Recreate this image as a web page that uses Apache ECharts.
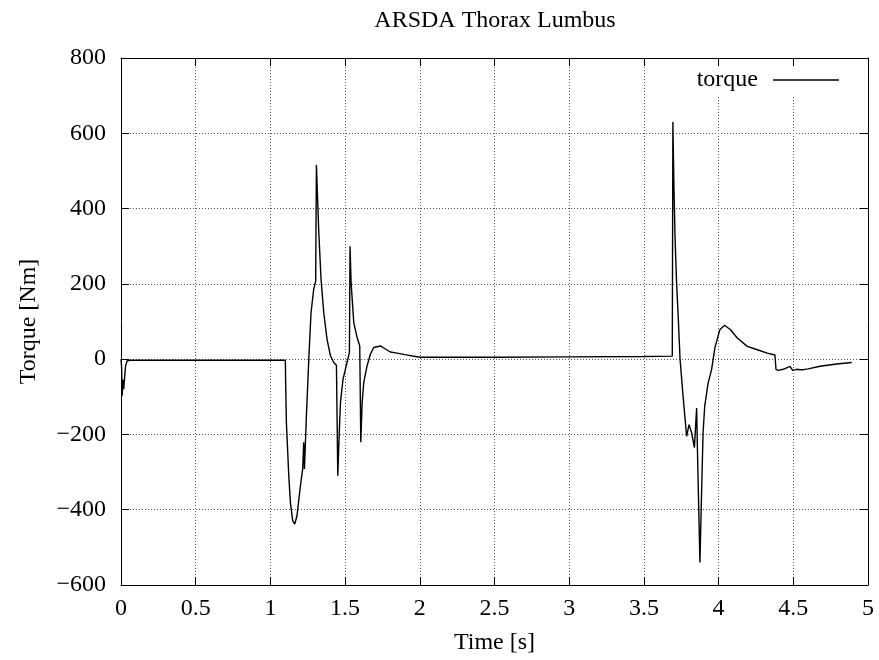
<!DOCTYPE html>
<html>
<head>
<meta charset="utf-8">
<script src="https://cdn.jsdelivr.net/npm/echarts@6/dist/echarts.min.js"></script>
<style>
html,body{margin:0;padding:0;background:#fff;}
#chart{width:879px;height:660px;}
</style>
</head>
<body>
<div id="chart"></div>
<script>
const chartTitle = 'ARSDA Thorax Lumbus';
const xAxisName = 'Time [s]';
const yAxisName = 'Torque [Nm]';
const seriesName = 'torque';

const xMin = 0, xMax = 5, xStep = 0.5;
const yMin = -600, yMax = 800, yStep = 200;

const time = [
  0.000, 0.004, 0.008, 0.013, 0.018, 0.030, 0.040, 0.060, 0.300, 0.600, 1.000, 1.100,
  1.102, 1.107, 1.123, 1.134, 1.149, 1.163, 1.178, 1.201, 1.216, 1.223, 1.228, 1.241,
  1.257, 1.272, 1.290, 1.303, 1.308, 1.324, 1.339, 1.357, 1.379, 1.402, 1.424, 1.442,
  1.451, 1.460, 1.469, 1.486, 1.513, 1.529, 1.533, 1.540, 1.558, 1.580, 1.598, 1.605,
  1.614, 1.625, 1.647, 1.669, 1.692, 1.736, 1.770, 1.803, 1.848, 1.900, 2.000, 2.500,
  3.000, 3.500, 3.690, 3.694, 3.700, 3.708, 3.719, 3.730, 3.742, 3.764, 3.786, 3.793,
  3.802, 3.811, 3.820, 3.838, 3.853, 3.858, 3.875, 3.885, 3.896, 3.907, 3.930, 3.953,
  3.975, 4.008, 4.040, 4.080, 4.125, 4.192, 4.259, 4.326, 4.377, 4.384, 4.400, 4.433,
  4.478, 4.489, 4.496, 4.523, 4.545, 4.556, 4.567, 4.600, 4.679, 4.790, 4.891
];
const torque = [
  0, -20, -97, -55, -80, -20, -5, -3, -3, -3, -3, -3,
  -60, -168, -310, -381, -429, -438, -416, -336, -292, -221, -292, -150,
  0, 124, 186, 208, 516, 336, 212, 124, 53, 9, -9, -16,
  -310, -204, -115, -53, -9, 18, 300, 204, 97, 58, 35, -221,
  -115, -62, -18, 13, 31, 35, 27, 19, 16, 12, 5, 5,
  6, 7, 8, 630, 480, 330, 200, 110, 0, -107, -205, -209,
  -174, -178, -196, -235, -130, -235, -540, -372, -196, -125, -63, -28,
  30, 78, 90, 78, 56, 34, 25, 16, 11, -27, -30, -27,
  -19, -15, -30, -27, -28, -24, -28, -26, -19, -13, -9
];

const FONT = 'Liberation Serif';
const FS = 24;

const chart = echarts.init(document.getElementById('chart'), null, {renderer: 'canvas'});
const minus = v => String(v).replace('-', '\u2212');

const gridLine = {show: true, lineStyle: {color: '#555', width: 1, type: [1, 2]}};
const axisLineStyle = {show: true, onZero: false, lineStyle: {color: '#000', width: 1}};
const tickStyle = {show: true, inside: true, length: 8, lineStyle: {color: '#000'}};

chart.setOption({
  animation: false,
  backgroundColor: '#fff',
  title: {
    text: chartTitle,
    left: 495,
    textAlign: 'center',
    top: 9,
    padding: 0,
    textStyle: {fontFamily: FONT, fontSize: FS, fontWeight: 'normal', color: '#000'}
  },
  legend: {
    data: [{name: seriesName, icon: 'rect'}],
    right: 36,
    top: 66,
    align: 'right',
    itemWidth: 66,
    itemHeight: 1.5,
    backgroundColor: '#fff',
    padding: [2, 4, 4, 12],
    textStyle: {fontFamily: FONT, fontSize: FS, color: '#000', padding: [0, 10, 0, 0]}
  },
  grid: {left: 121, right: 11, top: 58, bottom: 74, containLabel: false},
  xAxis: [
    {
      type: 'value', min: xMin, max: xMax, interval: xStep,
      position: 'bottom',
      name: xAxisName, nameLocation: 'middle', nameGap: 46,
      nameTextStyle: {fontFamily: FONT, fontSize: FS, color: '#000'},
      axisLine: axisLineStyle,
      axisTick: tickStyle,
      axisLabel: {fontFamily: FONT, fontSize: FS, color: '#000', margin: 12, formatter: minus},
      splitLine: gridLine
    },
    {
      type: 'value', min: xMin, max: xMax, interval: xStep,
      position: 'top',
      axisLine: axisLineStyle,
      axisTick: tickStyle,
      axisLabel: {show: false},
      splitLine: {show: false}
    }
  ],
  yAxis: [
    {
      type: 'value', min: yMin, max: yMax, interval: yStep,
      position: 'left',
      name: yAxisName, nameLocation: 'middle', nameGap: 80, nameRotate: 90,
      nameTextStyle: {fontFamily: FONT, fontSize: FS, color: '#000'},
      axisLine: axisLineStyle,
      axisTick: tickStyle,
      axisLabel: {fontFamily: FONT, fontSize: FS, color: '#000', margin: 15, formatter: minus},
      splitLine: gridLine
    },
    {
      type: 'value', min: yMin, max: yMax, interval: yStep,
      position: 'right',
      axisLine: axisLineStyle,
      axisTick: tickStyle,
      axisLabel: {show: false},
      splitLine: {show: false}
    }
  ],
  series: [{
    name: seriesName,
    type: 'line',
    xAxisIndex: 0,
    yAxisIndex: 0,
    symbol: 'none',
    data: time.map((t, i) => [t, torque[i]]),
    lineStyle: {color: '#000', width: 1.4},
    itemStyle: {color: '#000'}
  }]
});
</script>
</body>
</html>
